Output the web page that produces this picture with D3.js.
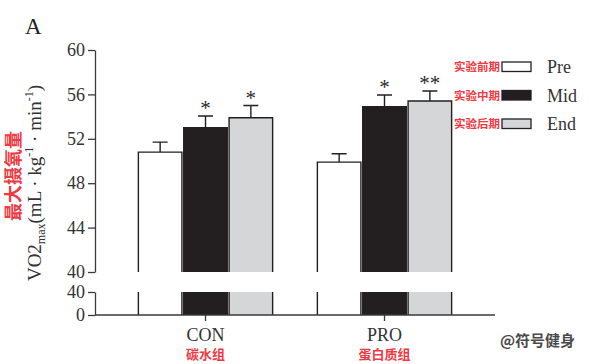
<!DOCTYPE html>
<html>
<head>
<meta charset="utf-8">
<script src="https://cdn.jsdelivr.net/npm/d3@7"></script>
<style>
  body { margin: 0; background: #fff; }
  svg { display: block; }
  .serif { font-family: "Liberation Serif", "DejaVu Serif", serif; }
  .cn { font-family: "Noto Sans CJK SC", sans-serif; font-weight: bold; }
</style>
</head>
<body>
<div id="chart"></div>
<script>
// 数据
const groups = ["CON", "PRO"];
const groupsCN = ["碳水组", "蛋白质组"];
const series = ["Pre", "Mid", "End"];
const seriesCN = ["实验前期", "实验中期", "实验后期"];
const means = {
  CON: [50.8, 53.0, 53.9],
  PRO: [49.9, 54.9, 55.4]
};
const errs = {
  CON: [0.9, 1.05, 1.1],
  PRO: [0.75, 1.05, 0.9]
};
const stars = {
  CON: ["", "*", "*"],
  PRO: ["", "*", "**"]
};
const topTicks = [40, 44, 48, 52, 56, 60];
const lowTicks = [0, 40];

const colors = ["#ffffff", "#231f20", "#d5d6d8"];
const ink = "#231f20";
const red = "#ee3a43";

const W = 600, H = 364;
const svg = d3.select("#chart").append("svg")
  .attr("width", W)
  .attr("height", H);

// 断轴：上段 40-60，下段 0-40
const yTop = d3.scaleLinear().domain([40, 60]).range([272, 50]);
const yLow = d3.scaleLinear().domain([0, 40]).range([315, 292]);

const x = d3.scaleBand().domain(groups).range([116, 474])
  .paddingInner(0.25).paddingOuter(0.125);
const xs = d3.scaleBand().domain(series).range([0, x.bandwidth()]).paddingInner(0.04);

const color = d3.scaleOrdinal(series, colors);

// 柱子
const g = svg.selectAll(".grp")
  .data(groups)
  .join("g")
  .attr("class", "grp")
  .attr("transform", d => `translate(${x(d)},0)`);

const bar = g.selectAll(".bar")
  .data(d => series.map((s, i) => ({ g: d, s: s, v: means[d][i], e: errs[d][i], star: stars[d][i] })))
  .join("g")
  .attr("class", "bar");

// 上段
bar.append("rect")
  .attr("x", d => xs(d.s))
  .attr("y", d => yTop(d.v))
  .attr("width", xs.bandwidth())
  .attr("height", d => yTop(40) - yTop(d.v))
  .attr("fill", d => color(d.s));
bar.append("path")
  .attr("d", d => {
    const x0 = xs(d.s), x1 = x0 + xs.bandwidth();
    return `M${x0},${yTop(40)}V${yTop(d.v)}H${x1}V${yTop(40)}`;
  })
  .attr("fill", "none")
  .attr("stroke", ink)
  .attr("stroke-width", 1.4);

// 下段
bar.append("rect")
  .attr("x", d => xs(d.s))
  .attr("y", yLow(40))
  .attr("width", xs.bandwidth())
  .attr("height", yLow(0) - yLow(40))
  .attr("fill", d => color(d.s));
bar.append("path")
  .attr("d", d => {
    const x0 = xs(d.s), x1 = x0 + xs.bandwidth();
    return `M${x0},${yLow(40)}V${yLow(0)}M${x1},${yLow(40)}V${yLow(0)}`;
  })
  .attr("fill", "none")
  .attr("stroke", ink)
  .attr("stroke-width", 1.4);

// 误差线
bar.append("path")
  .attr("d", d => {
    const cx = xs(d.s) + xs.bandwidth() / 2;
    const yt = yTop(d.v + d.e);
    return `M${cx},${yTop(d.v)}V${yt}M${cx - 7.5},${yt}H${cx + 7.5}`;
  })
  .attr("fill", "none")
  .attr("stroke", ink)
  .attr("stroke-width", 1.4);

// 显著性星号
bar.filter(d => d.star)
  .append("text")
  .attr("class", "serif")
  .attr("x", d => xs(d.s) + xs.bandwidth() / 2)
  .attr("y", d => yTop(d.v + d.e) - 1)
  .attr("text-anchor", "middle")
  .attr("font-size", 21)
  .attr("fill", "#2a2a2a")
  .text(d => d.star);

// y轴（上段）
const axTop = svg.append("g")
  .attr("transform", "translate(95,0)")
  .call(d3.axisLeft(yTop).tickValues(topTicks).tickSize(7).tickSizeOuter(0).tickPadding(3));
// y轴（下段）
const axLow = svg.append("g")
  .attr("transform", "translate(95,0)")
  .call(d3.axisLeft(yLow).tickValues(lowTicks).tickSize(7).tickSizeOuter(0).tickPadding(3));

[axTop, axLow].forEach(a => {
  a.selectAll("path, line").attr("stroke", "#3a3a3a").attr("stroke-width", 1.3);
  a.selectAll("text")
    .attr("class", "serif")
    .attr("font-size", 18)
    .attr("fill", "#333");
});

// x轴
svg.append("line")
  .attr("x1", 95).attr("x2", 495)
  .attr("y1", yLow(0)).attr("y2", yLow(0))
  .attr("stroke", "#3a3a3a").attr("stroke-width", 1.3);

const axX = svg.append("g")
  .attr("transform", `translate(0,${yLow(0)})`)
  .call(d3.axisBottom(x).tickSize(6).tickPadding(7));
axX.select(".domain").remove();
axX.selectAll("line").attr("stroke", "#3a3a3a").attr("stroke-width", 1.3);
axX.selectAll("text")
  .attr("class", "serif")
  .attr("font-size", 18)
  .attr("fill", "#333");

svg.selectAll(".cnx")
  .data(groups)
  .join("text")
  .attr("class", "cn cnx")
  .attr("x", d => x(d) + x.bandwidth() / 2)
  .attr("y", 359)
  .attr("text-anchor", "middle")
  .attr("font-size", 13)
  .attr("fill", red)
  .text((d, i) => groupsCN[i]);

// 面板标记
svg.append("text")
  .attr("class", "serif")
  .attr("x", 25).attr("y", 34)
  .attr("font-size", 23)
  .attr("fill", "#222")
  .text("A");

// y轴标题
const yl = svg.append("text")
  .attr("class", "serif")
  .attr("transform", "translate(41,183) rotate(-90)")
  .attr("text-anchor", "middle")
  .attr("font-size", 19)
  .attr("fill", "#333");
yl.append("tspan").text("VO2");
yl.append("tspan").attr("font-size", 12).attr("dy", 4).text("max");
yl.append("tspan").attr("dy", -4).text("(mL · kg");
yl.append("tspan").attr("font-size", 12).attr("dy", -8).text("-1");
yl.append("tspan").attr("dy", 8).text(" · min");
yl.append("tspan").attr("font-size", 12).attr("dy", -8).text("-1");
yl.append("tspan").attr("dy", 8).text(")");

svg.append("text")
  .attr("class", "cn")
  .attr("transform", "translate(20,176) rotate(-90)")
  .attr("text-anchor", "middle")
  .attr("font-size", 18)
  .attr("fill", red)
  .text("最大摄氧量");

// 图例
const lg = svg.selectAll(".lg")
  .data(series)
  .join("g")
  .attr("class", "lg")
  .attr("transform", (d, i) => `translate(502,${62 + i * 28.5})`);

lg.append("rect")
  .attr("width", 29).attr("height", 9.5)
  .attr("fill", d => color(d))
  .attr("stroke", ink)
  .attr("stroke-width", 1.3);

lg.append("text")
  .attr("class", "serif")
  .attr("x", 45).attr("y", 11)
  .attr("font-size", 18)
  .attr("fill", "#333")
  .text(d => d);

lg.append("text")
  .attr("class", "cn")
  .attr("x", -2).attr("y", 9)
  .attr("text-anchor", "end")
  .attr("font-size", 11.5)
  .attr("fill", red)
  .text((d, i) => seriesCN[i]);

// 水印
svg.append("text")
  .attr("class", "cn")
  .attr("x", 500).attr("y", 346)
  .attr("font-size", 15)
  .attr("fill", "#4a4a4a")
  .text("@符号健身");
</script>
</body>
</html>
